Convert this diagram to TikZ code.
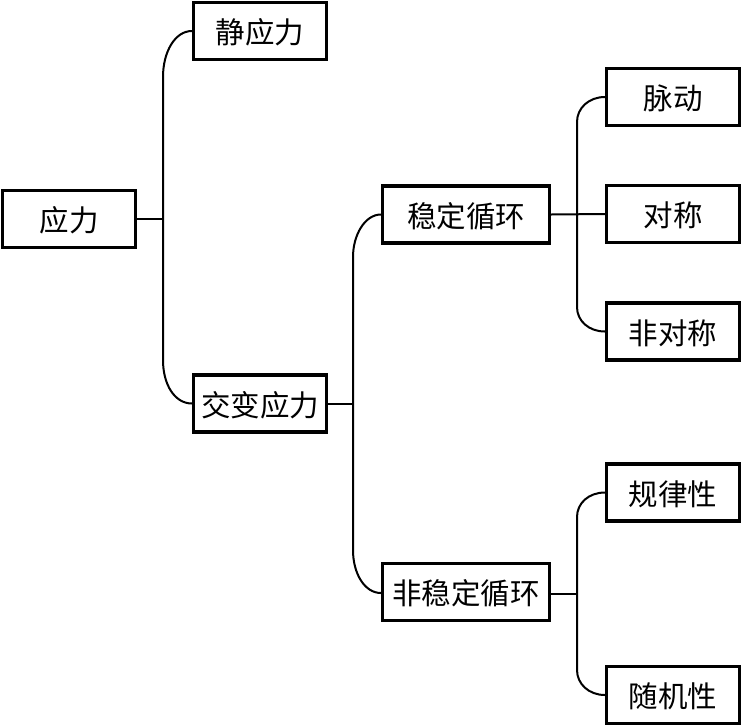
\documentclass[tikz,border=0pt]{standalone}
\usepackage{fontspec}
\newfontfamily\cjk{Noto Sans CJK SC}
\begin{document}
\begin{tikzpicture}[x=1pt,y=-1pt,
  box/.style={draw=black,line width=3.2pt,inner sep=0pt,minimum height=57pt,
    minimum width=133pt,font=\cjk\fontsize{29.5}{34}\selectfont,
    text height=27pt,text depth=1.6pt,anchor=center},
  wide/.style={minimum width=167pt},
  conn/.style={draw=black,line width=2pt}]
\useasboundingbox (0,0) rectangle (741,726);
% nodes
\node[box] (yl)   at (69,219)    {应力};
\node[box] (jyl)  at (260,31)    {静应力};
\node[box] (jbyl) at (260,403.5) {交变应力};
\node[box,wide] (wd)  at (466,214.5) {稳定循环};
\node[box,wide] (fwd) at (466,592)   {非稳定循环};
\node[box] (md)   at (673,97)    {脉动};
\node[box] (dc)   at (673,214)   {对称};
\node[box] (fdc)  at (673,331.5) {非对称};
\node[box] (glx)  at (673,492.5) {规律性};
\node[box] (sjx)  at (673,695)   {随机性};
% trunk points
\coordinate (t1a) at (163,77);
\coordinate (t1b) at (163,360);
\coordinate (t1m) at (163,219);
\coordinate (t2a) at (353,257);
\coordinate (t2b) at (353,550);
\coordinate (t2m) at (353,404);
\coordinate (t3a) at (577,122);
\coordinate (t3b) at (577,307);
\coordinate (t4a) at (577,517);
\coordinate (t4b) at (577,670);
\coordinate (t4m) at (577,594);
% level 1
\draw[conn] (yl.east |- t1m) -- (t1m);
\draw[conn] (jyl.west) .. controls +(-17,0) and +(0,-25) .. (t1a) -- (t1b)
  .. controls +(0,25) and +(-17,0) .. (jbyl.west);
% level 2
\draw[conn] (jbyl.east |- t2m) -- (t2m);
\draw[conn] (wd.west) .. controls +(-16,0) and +(0,-22) .. (t2a) -- (t2b)
  .. controls +(0,24) and +(-16,0) .. (fwd.west |- 0,593);
% level 3 (stable)
\draw[conn] (wd.east) -- (dc.west);
\draw[conn] (md.west) .. controls +(-16,0) and +(0,-14) .. (t3a) -- (t3b)
  .. controls +(0,14) and +(-16,0) .. (fdc.west);
% level 3 (unstable)
\draw[conn] (fwd.east |- t4m) -- (t4m);
\draw[conn] (glx.west) .. controls +(-16,0) and +(0,-14) .. (t4a) -- (t4b)
  .. controls +(0,14) and +(-16,0) .. (sjx.west);
\end{tikzpicture}
\end{document}
